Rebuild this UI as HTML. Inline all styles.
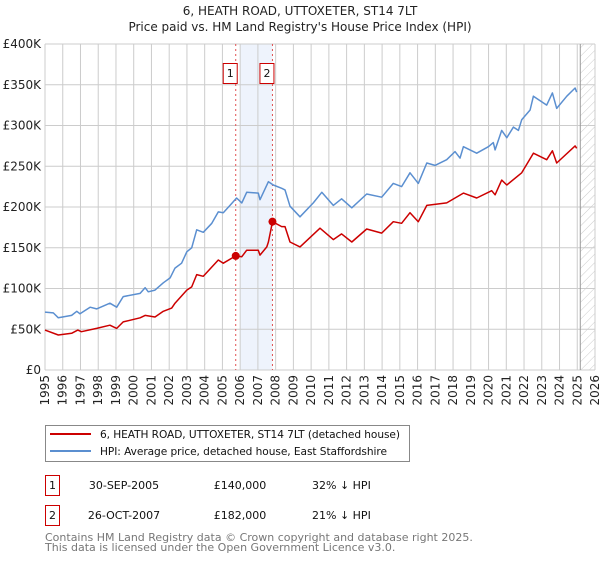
<!DOCTYPE html>
<html><head><meta charset="utf-8"><style>
body{margin:0;background:#fff;font-family:"DejaVu Sans","Liberation Sans",sans-serif;}
svg text{font-family:"DejaVu Sans","Liberation Sans",sans-serif;}
</style></head><body>
<svg id="c" width="600" height="560" xmlns="http://www.w3.org/2000/svg">
<text x="300" y="15" text-anchor="middle" font-size="12" fill="#222">6, HEATH ROAD, UTTOXETER, ST14 7LT</text>
<text x="300" y="31" text-anchor="middle" font-size="12" fill="#222">Price paid vs. HM Land Registry's House Price Index (HPI)</text>
<g id="plot"></g>
<g>
<rect x="45.5" y="425.5" width="364" height="36" fill="#fff" stroke="#888"/>
<line x1="50" y1="434" x2="91" y2="434" stroke="#cc0000" stroke-width="2"/>
<text x="100" y="438" font-size="10.6" fill="#111" textLength="300">6, HEATH ROAD, UTTOXETER, ST14 7LT (detached house)</text>
<line x1="50" y1="451" x2="91" y2="451" stroke="#5b8fd0" stroke-width="2"/>
<text x="100" y="455" font-size="10.6" fill="#111" textLength="287">HPI: Average price, detached house, East Staffordshire</text>
</g>
<g font-size="11" fill="#111">
<rect x="45.5" y="475.5" width="14" height="20" fill="#fff" stroke="#cc0000"/>
<text x="52.5" y="489" text-anchor="middle">1</text>
<text x="124" y="489" text-anchor="middle">30-SEP-2005</text>
<text x="240" y="489" text-anchor="middle">£140,000</text>
<text x="312" y="489">32% ↓ HPI</text>
<rect x="45.5" y="505.5" width="14" height="20" fill="#fff" stroke="#cc0000"/>
<text x="52.5" y="519" text-anchor="middle">2</text>
<text x="124" y="519" text-anchor="middle">26-OCT-2007</text>
<text x="240" y="519" text-anchor="middle">£182,000</text>
<text x="312" y="519">21% ↓ HPI</text>
</g>
<text x="45" y="541" font-size="11" fill="#777">Contains HM Land Registry data © Crown copyright and database right 2025.</text>
<text x="45" y="551" font-size="11" fill="#777">This data is licensed under the Open Government Licence v3.0.</text>
</svg>
<script>
const yTicks=[0,50,100,150,200,250,300,350,400];
const yTickLabels=["£0","£50K","£100K","£150K","£200K","£250K","£300K","£350K","£400K"];
const years=[1995,1996,1997,1998,1999,2000,2001,2002,2003,2004,2005,2006,2007,2008,2009,2010,2011,2012,2013,2014,2015,2016,2017,2018,2019,2020,2021,2022,2023,2024,2025,2026];
const hpiYears=[1995,1995.47,1995.75,1996.5,1996.79,1996.97,1997.54,1997.91,1998.66,1999.04,1999.41,2000.36,2000.64,2000.82,2001.2,2001.67,2002.05,2002.33,2002.7,2002.99,2003.27,2003.55,2003.92,2004.4,2004.77,2005.05,2005.43,2005.8,2006.09,2006.37,2007.02,2007.12,2007.59,2007.87,2008.34,2008.53,2008.81,2009.37,2010.12,2010.6,2011.25,2011.72,2012.29,2013.13,2013.98,2014.63,2015.1,2015.57,2016.04,2016.52,2016.98,2017.64,2018.11,2018.39,2018.58,2019.33,2019.99,2020.27,2020.37,2020.74,2021.03,2021.4,2021.68,2021.87,2022.34,2022.53,2023.28,2023.6,2023.84,2024.41,2024.88,2024.97];
const hpiValues=[71,70,64,67,72,69,77,75,82,77,90,94,101,96,98,107,113,125,131,145,150,172,169,180,194,193,202,211,205,218,217,209,231,227,223,221,201,188,205,218,202,210,199,216,212,229,225,242,229,254,251,258,268,260,274,266,274,279,270,294,285,298,294,307,319,336,325,340,321,336,346,341];
const priceYears=[1995,1995.75,1996.5,1996.85,1997.05,1997.91,1998.66,1999.04,1999.41,2000.36,2000.64,2001.2,2001.67,2002.14,2002.33,2002.99,2003.27,2003.55,2003.92,2004.77,2005.05,2005.75,2006.09,2006.37,2007.02,2007.12,2007.5,2007.59,2007.82,2008.34,2008.53,2008.81,2009.37,2010.5,2011.25,2011.72,2012.29,2013.13,2013.98,2014.63,2015.1,2015.57,2016.04,2016.52,2017.64,2018.58,2019.33,2020.18,2020.37,2020.74,2021.03,2021.87,2022.53,2023.28,2023.6,2023.84,2024.88,2024.97];
const priceValues=[49,43,45,49,47,51,55,51,59,64,67,65,72,76,82,98,102,117,115,135,131,140,139,147,147,141,151,157,182,176,176,157,151,174,160,167,157,173,168,182,180,193,182,202,205,217,211,220,215,233,227,242,266,258,269,254,275,272];
const saleYears=[2005.75,2007.82];
const salePrices=[140,182];
const saleLabels=["1","2"];

const X0=45,X1=595,Y0=370,Y1=44;
const xs=y=>X0+(y-1995)/(2026-1995)*(X1-X0);
const ys=v=>Y0-v/400*(Y0-Y1);
const NS="http://www.w3.org/2000/svg";
const plot=document.getElementById('plot');
function mk(tag,attrs,parent){const e=document.createElementNS(NS,tag);for(const k in attrs)e.setAttribute(k,attrs[k]);(parent||plot).appendChild(e);return e;}

const sh=mk('rect',{x:xs(2006),y:Y1,width:xs(saleYears[1])-xs(2006),height:Y0-Y1,fill:'#eef3fc'});


const defs=mk('defs',{});
const pat=mk('pattern',{id:'h',width:6,height:6,patternUnits:'userSpaceOnUse',patternTransform:'rotate(45)'},defs);
mk('line',{x1:0,y1:0,x2:0,y2:6,stroke:'#ccc','stroke-width':1},pat);
const ht=mk('rect',{x:xs(2025.17),y:Y1,width:X1-xs(2025.17),height:Y0-Y1,fill:'url(#h)'});



yTicks.forEach((t,i)=>{
  const l=mk('line',{x1:X0,x2:X1,y1:ys(t),y2:ys(t),stroke:'#ccc','stroke-width':1});
  
  
  const tx=mk('text',{x:X0-4,y:ys(t)+4,'text-anchor':'end','font-size':12,fill:'#222'});
  tx.textContent=yTickLabels[i];
  
  
});
years.forEach(yr=>{
  const l=mk('line',{x1:xs(yr),x2:xs(yr),y1:Y1,y2:Y0,stroke:'#ccc','stroke-width':1});
  
  
  const tx=mk('text',{x:0,y:0,'text-anchor':'end','font-size':12,fill:'#222',transform:`translate(${xs(yr)+4},${Y0+5}) rotate(-90)`});
  tx.textContent=yr;
  
  
});
const nl=mk('line',{x1:xs(2025.17),x2:xs(2025.17),y1:Y1,y2:Y0,stroke:'#999','stroke-width':1});



saleYears.forEach((sy,i)=>{
  const l=mk('line',{x1:xs(sy),x2:xs(sy),y1:Y1,y2:Y0,stroke:'#e05050','stroke-width':1,'stroke-dasharray':'2,3'});
  
  
  const r=mk('rect',{x:xs(sy)-12.5,y:63.5,width:14,height:20,fill:'#fff',stroke:'#cc0000'});
  
  
  const t=mk('text',{x:xs(sy)-5.5,y:77,'text-anchor':'middle','font-size':11,fill:'#111'});
  t.textContent=saleLabels[i];
  
  
});

function path(xv,yv,color,name){
  const d=xv.map((x,i)=>(i?'L':'M')+xs(x).toFixed(1)+','+ys(yv[i]).toFixed(1)).join('');
  const p=mk('path',{d:d,fill:'none',stroke:color,'stroke-width':1.5,'stroke-linejoin':'round'});
  
  
}
path(hpiYears,hpiValues,'#5b8fd0','hpi-line');
path(priceYears,priceValues,'#cc0000','price-line');
saleYears.forEach((sy,i)=>{
  const c=mk('circle',{cx:xs(sy),cy:ys(salePrices[i]),r:4,fill:'#cc0000'});
  
  
});
</script>
</body></html>
